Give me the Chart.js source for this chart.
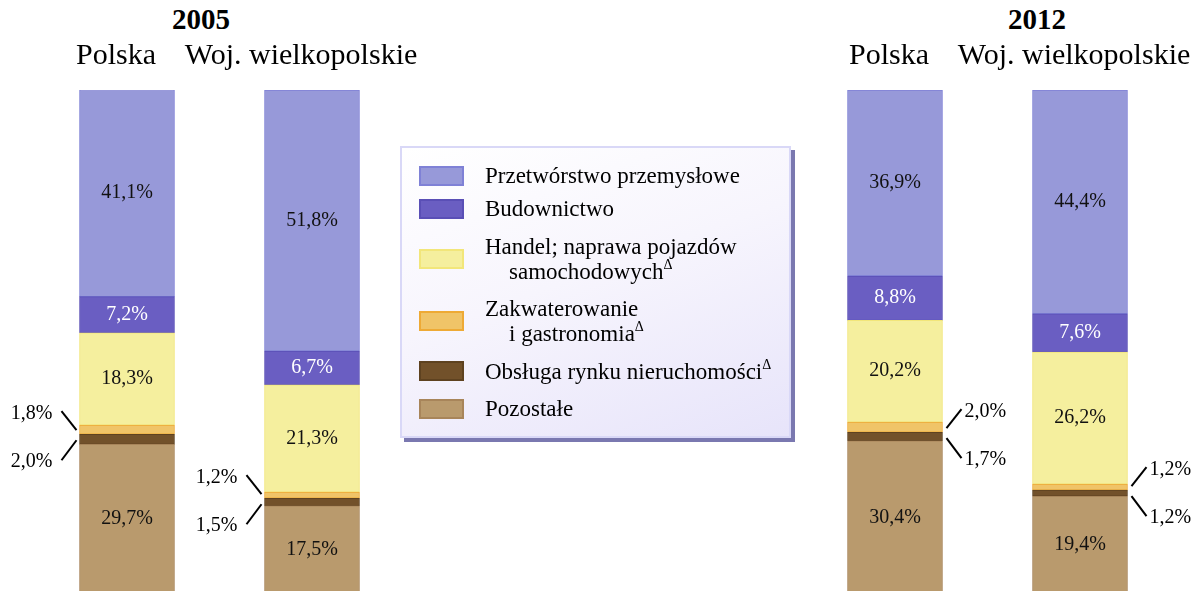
<!DOCTYPE html>
<html><head><meta charset="utf-8">
<script src="https://cdn.jsdelivr.net/npm/chart.js@4.4.1/dist/chart.umd.min.js"></script>
<style>
html,body{margin:0;padding:0;background:#fff;width:1201px;height:591px;overflow:hidden;}
body{position:relative;font-family:'Liberation Serif','Times New Roman',serif;color:#000;}
canvas{position:absolute;top:0;}
#c2005{left:0;}
#c2012{left:780px;}
.year{position:absolute;top:5px;font-weight:bold;font-size:29px;line-height:29px;transform:translateX(-50%);white-space:nowrap;}
#legend{position:absolute;left:400px;top:146px;width:391px;height:292px;box-sizing:border-box;
  border:2px solid #d9d8f7;background:linear-gradient(160deg,#ffffff 0%,#f7f5fd 45%,#e7e4fa 100%);
  box-shadow:4px 4px 0 #7a78b0;padding-top:15px;}
.row{display:flex;align-items:center;position:relative;}
.sw{position:absolute;left:17px;width:45px;height:20px;box-sizing:border-box;border:2px solid;}
.txt{margin-left:83px;font-size:23px;line-height:25px;white-space:nowrap;}
.txt .l2{padding-left:24px;}
.txt sup{font-size:14px;line-height:0;vertical-align:0;position:relative;top:-10px;}
</style></head>
<body>
<div class="year" style="left:201px">2005</div>
<div class="year" style="left:1037px">2012</div>
<canvas id="c2005" width="500" height="596"></canvas>
<canvas id="c2012" width="500" height="596"></canvas>
<div id="legend"></div>
<script>
// ---- data ----
const years = ['2005', '2012'];
const regions = ['Polska', 'Woj. wielkopolskie'];
// order of values: Polska 2005, Woj. 2005, Polska 2012, Woj. 2012
const przetworstwo   = [41.1, 51.8, 36.9, 44.4];
const budownictwo    = [7.2, 6.7, 8.8, 7.6];
const handel         = [18.3, 21.3, 20.2, 26.2];
const zakwaterowanie = [1.8, 1.2, 2.0, 1.2];
const obsluga        = [2.0, 1.5, 1.7, 1.2];
const pozostale      = [29.7, 17.5, 30.4, 19.4];
const seriesNames = ['Przetwórstwo przemysłowe', 'Budownictwo', 'Handel; naprawa pojazdów\nsamochodowych',
  'Zakwaterowanie\ni gastronomia', 'Obsługa rynku nieruchomości', 'Pozostałe'];
const seriesMarked = [false, false, true, true, true, false];

// ---- styles ----
const FONT = "'Liberation Serif','Times New Roman',serif";
const series = [
  {name: seriesNames[0], mark: seriesMarked[0], data: przetworstwo,   fill: '#9799d9', border: '#7f81d6', text: '#111', small: false},
  {name: seriesNames[1], mark: seriesMarked[1], data: budownictwo,    fill: '#6a5ec2', border: '#5a4fb6', text: '#ffffff', small: false},
  {name: seriesNames[2], mark: seriesMarked[2], data: handel,         fill: '#f5ef9e', border: '#f2e67a', text: '#111', small: false},
  {name: seriesNames[3], mark: seriesMarked[3], data: zakwaterowanie, fill: '#f0c468', border: '#eeaa35', text: '#111', small: true, callout: 'up'},
  {name: seriesNames[4], mark: seriesMarked[4], data: obsluga,        fill: '#72512a', border: '#5e4220', text: '#111', small: true, callout: 'down'},
  {name: seriesNames[5], mark: seriesMarked[5], data: pozostale,      fill: '#b99a6d', border: '#a8855a', text: '#111', small: false}
];
const fmt = v => v.toFixed(1).replace('.', ',') + '%';

const segLabels = {
  id: 'segLabels',
  afterDatasetsDraw(chart, args, opts) {
    const ctx = chart.ctx;
    ctx.save();
    ctx.font = '20px ' + FONT;
    ctx.textBaseline = 'middle';
    let downBars = null, upData = null, downData = null;
    chart.data.datasets.forEach((ds, di) => {
      const meta = chart.getDatasetMeta(di);
      if (ds.callout === 'up') { upData = ds.data; }
      if (ds.callout === 'down') { downBars = meta.data; downData = ds.data; }
      if (ds.small) return;
      ctx.textAlign = 'center';
      ctx.fillStyle = ds.labelColor;
      meta.data.forEach((bar, i) => {
        ctx.fillText(fmt(ds.data[i]), bar.x, (bar.y + bar.base) / 2);
      });
    });
    const side = opts.side;
    ctx.strokeStyle = '#000';
    ctx.lineWidth = 2;
    ctx.fillStyle = '#000';
    ctx.textAlign = side < 0 ? 'right' : 'left';
    downBars.forEach((dbar, i) => {
      const boundary = dbar.y;
      const edgeX = dbar.x + side * (dbar.width / 2 + opts.edge);
      const outX = edgeX + side * 15;
      const items = [
        {ay: boundary - 4, oy: boundary - 4 - 19, ty: 3, v: upData[i]},
        {ay: boundary + 6, oy: boundary + 6 + 20, ty: 2, v: downData[i]}
      ];
      items.forEach(it => {
        ctx.beginPath();
        ctx.moveTo(edgeX, it.ay);
        ctx.lineTo(outX, it.oy);
        ctx.stroke();
        ctx.fillText(fmt(it.v), outX + side * opts.gap, it.oy + it.ty);
      });
    });
    ctx.restore();
  }
};

function makeChart(id, g, pad, side, labelOffset, edge, gap) {
  const datasets = series.slice().reverse().map(s => ({
    label: s.name.replace('\n', ' '),
    data: s.data.slice(g * 2, g * 2 + 2),
    backgroundColor: s.fill,
    borderColor: s.border,
    borderWidth: 1,
    borderSkipped: false,
    barThickness: 95,
    labelColor: s.text,
    small: s.small,
    callout: s.callout
  }));
  return new Chart(document.getElementById(id), {
    type: 'bar',
    data: {labels: regions, datasets},
    options: {
      responsive: false,
      devicePixelRatio: 1,
      animation: false,
      layout: {padding: pad},
      plugins: {legend: {display: false}, tooltip: {enabled: false}, title: {display: false},
                segLabels: {side, edge, gap}},
      scales: {
        x: {
          stacked: true,
          position: 'top',
          grid: {display: false, drawTicks: false},
          border: {display: false},
          ticks: {font: {family: FONT, size: 30}, color: '#000', padding: 16, labelOffset,
                  maxRotation: 0, minRotation: 0, autoSkip: false},
          afterFit(scale) { scale.height = 90; }
        },
        y: {stacked: true, display: false, min: 0, max: 100}
      }
    },
    plugins: [segLabels]
  });
}
// chart areas: 2005 -> 34.5..404.5 ; 2012 -> 802.5..1172.5 (canvas starts at 780)
makeChart('c2005', 0, {left: 34.5, right: 95.5, top: 0, bottom: 2}, -1, -11, 3, 9);
makeChart('c2012', 1, {left: 22.5, right: 107.5, top: 0, bottom: 2}, 1, -6, 4, 3);

// ---- legend ----
const legend = document.getElementById('legend');
const gaps = [0, 8, 12.5, 12.5, 12.5, 12.5];
series.forEach((s, i) => {
  const row = document.createElement('div');
  row.className = 'row';
  row.style.marginTop = gaps[i] + 'px';
  const sw = document.createElement('div');
  sw.className = 'sw';
  sw.style.background = s.fill;
  sw.style.borderColor = s.border;
  const txt = document.createElement('div');
  txt.className = 'txt';
  const lines = s.name.split('\n');
  lines.forEach((ln, li) => {
    const d = document.createElement('div');
    if (li > 0) d.className = 'l2';
    d.textContent = ln;
    if (s.mark && li === lines.length - 1) {
      const sup = document.createElement('sup');
      sup.textContent = 'Δ';
      d.appendChild(sup);
    }
    txt.appendChild(d);
  });
  row.appendChild(sw);
  row.appendChild(txt);
  legend.appendChild(row);
});
</script>
</body></html>
